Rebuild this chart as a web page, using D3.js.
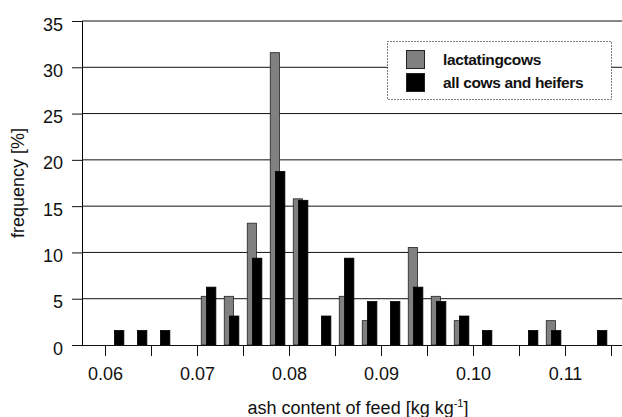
<!DOCTYPE html>
<html>
<head>
<meta charset="utf-8">
<script src="https://cdn.jsdelivr.net/npm/d3@7"></script>
<style>
  html, body { margin: 0; padding: 0; background: #fff; }
  svg { display: block; font-family: "Liberation Sans", Arial, Helvetica, sans-serif; }
</style>
</head>
<body>
<svg id="chart" width="622" height="417"></svg>
<script>
// Histogram bins: lower edge of each 0.0025-wide ash-content class
const binStart = [0.0575, 0.0600, 0.0625, 0.0650, 0.0675, 0.0700, 0.0725, 0.0750,
                  0.0775, 0.0800, 0.0825, 0.0850, 0.0875, 0.0900, 0.0925, 0.0950,
                  0.0975, 0.1000, 0.1025, 0.1050, 0.1075, 0.1100, 0.1125];
// Relative frequency [%] per bin
const lactatingCows = [0, 0, 0, 0, 0, 5.26, 5.26, 13.16,
                       31.58, 15.79, 0, 5.26, 2.63, 0, 10.53, 5.26,
                       2.63, 0, 0, 0, 2.63, 0, 0];
const allCowsHeifers = [0, 1.56, 1.56, 1.56, 0, 6.25, 3.13, 9.38,
                        18.75, 15.63, 3.13, 9.38, 4.69, 4.69, 6.25, 4.69,
                        3.13, 1.56, 0, 1.56, 1.56, 0, 1.56];
const seriesNames = ["lactatingcows", "all cows and heifers"];
const yTicks = [0, 5, 10, 15, 20, 25, 30, 35];
const xTicks = [0.060, 0.065, 0.070, 0.075, 0.080, 0.085, 0.090, 0.095, 0.100, 0.105, 0.110, 0.115];
const xTickLabels = ["0.06", "", "0.07", "", "0.08", "", "0.09", "", "0.10", "", "0.11", ""];
const binWidth = 0.0025;

const svg = d3.select("#chart");
const plotL = 82, plotR = 622, plotT = 21, plotB = 345;

const x = d3.scaleLinear().domain([0.0575, 0.0575 + (plotR - plotL) / 9200]).range([plotL, plotR]);
const y = d3.scaleLinear().domain([0, 35]).range([plotB, plotT]);

// Horizontal gridlines
svg.append("g").selectAll("line").data(yTicks.slice(1)).join("line")
  .attr("x1", plotL).attr("x2", plotR)
  .attr("y1", d => y(d)).attr("y2", d => y(d))
  .attr("stroke", "#111").attr("stroke-width", 1);

// Legend box (white, covers the gridlines)
const lg = svg.append("g");
lg.append("rect").attr("x", 387.5).attr("y", 41.5).attr("width", 224).attr("height", 58)
  .attr("fill", "#fff").attr("stroke", "#000").attr("stroke-width", 1)
  .attr("stroke-dasharray", "1,2");
const legendFill = ["#808080", "#000"];
seriesNames.forEach((name, i) => {
  lg.append("rect").attr("x", 406.5).attr("y", 50.5 + i * 23).attr("width", 18).attr("height", 18)
    .attr("fill", legendFill[i]).attr("stroke", "#222").attr("stroke-width", 1);
  lg.append("text").attr("x", 443).attr("y", 65 + i * 22.5)
    .attr("font-size", 15.5).attr("font-weight", "bold").attr("fill", "#111")
    .attr("letter-spacing", "-0.35")
    .text(name);
});

// Bars
const bw = x(binStart[0] + binWidth) - x(binStart[0]);
const bars = svg.append("g");
bars.selectAll("rect.gray").data(binStart).join("rect").attr("class", "gray")
  .attr("x", d => x(d) + 0.185 * bw)
  .attr("width", 0.4 * bw)
  .attr("y", (d, i) => y(lactatingCows[i]))
  .attr("height", (d, i) => y(0) - y(lactatingCows[i]))
  .attr("fill", "#808080").attr("stroke", "#222").attr("stroke-width", 0.8);
bars.selectAll("rect.black").data(binStart).join("rect").attr("class", "black")
  .attr("x", d => x(d) + 0.41 * bw)
  .attr("width", 0.41 * bw)
  .attr("y", (d, i) => y(allCowsHeifers[i]))
  .attr("height", (d, i) => y(0) - y(allCowsHeifers[i]))
  .attr("fill", "#000").attr("stroke", "#000").attr("stroke-width", 0.8);

// Y axis
const yAxis = svg.append("g").attr("transform", `translate(${plotL},0)`)
  .call(d3.axisLeft(y).tickValues(yTicks).tickSize(10).tickPadding(9).tickFormat(d3.format("d")));
yAxis.select(".domain").attr("d", `M0.5,${plotT}V${plotB}`).attr("stroke", "#000");
yAxis.selectAll(".tick line").attr("stroke", "#111");
yAxis.selectAll("text").attr("font-size", 18).attr("fill", "#111").attr("dy", "0.5em")
  .attr("font-family", "Liberation Sans, Arial, sans-serif");

// X axis
const xAxis = svg.append("g").attr("transform", `translate(0,${plotB})`)
  .call(d3.axisBottom(x).tickValues(xTicks).tickSize(11).tickPadding(11)
    .tickFormat((d, i) => xTickLabels[i]));
xAxis.select(".domain").attr("d", `M${plotL},0.5H${plotR}`).attr("stroke", "#111");
xAxis.selectAll(".tick line").attr("stroke", "#111");
xAxis.selectAll("text").attr("font-size", 18).attr("fill", "#111")
  .attr("font-family", "Liberation Sans, Arial, sans-serif");

// Axis titles
svg.append("text").attr("transform", "translate(24,183) rotate(-90)")
  .attr("text-anchor", "middle").attr("font-size", 18).attr("fill", "#111")
  .text("frequency [%]");

const xt = svg.append("text").attr("x", 358).attr("y", 414)
  .attr("text-anchor", "middle").attr("font-size", 18).attr("fill", "#111");
xt.append("tspan").text("ash content of feed [kg kg");
xt.append("tspan").attr("dy", -7).attr("font-size", 11).text("-1");
xt.append("tspan").attr("dy", 7).text("]");
</script>
</body>
</html>
